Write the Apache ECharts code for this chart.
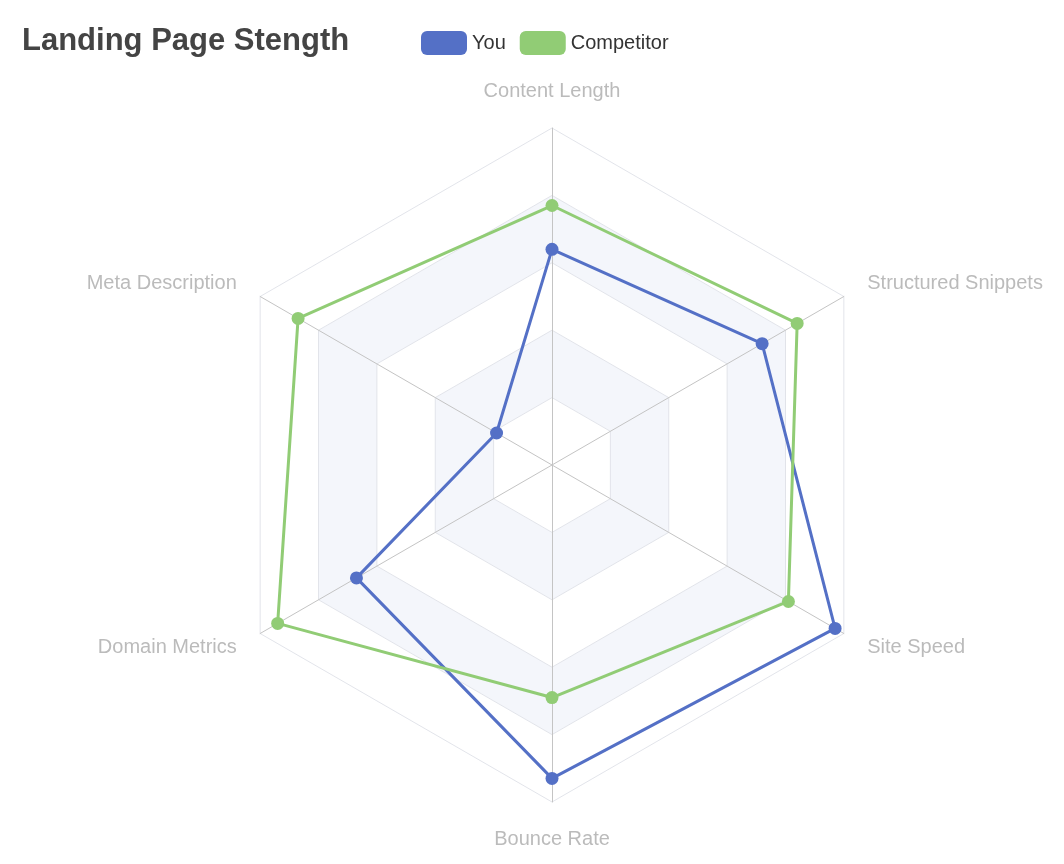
<!DOCTYPE html>
<html><head><meta charset="utf-8">
<script src="https://cdn.jsdelivr.net/npm/echarts@6/dist/echarts.min.js"></script>
<style>html,body{margin:0;padding:0;background:#fff}#c{width:1064px;height:864px}</style>
</head><body><div id="c"></div>
<script>
const indicators = ['Content Length','Meta Description','Domain Metrics','Bounce Rate','Site Speed','Structured Snippets'];
const youValues = [64, 19, 67, 93, 97, 72];
const competitorValues = [77, 87, 94, 69, 81, 84];
const seriesNames = ['You','Competitor'];
const chart = echarts.init(document.getElementById('c'));
chart.setOption({
  title:{text:'Landing Page Stength',left:17,top:21,textStyle:{fontSize:31,fontWeight:'bold',color:'#444',fontFamily:'Liberation Sans, Arial'}},
  legend:{data:seriesNames,left:416,top:26,itemWidth:46,itemHeight:24,itemGap:14,icon:'roundRect',textStyle:{fontSize:20,color:'#333',fontFamily:'Liberation Sans, Arial'}},
  radar:{
    center:[552,465],radius:337,splitNumber:5,
    indicator:indicators.map(n=>({name:n,max:100})),
    axisName:{color:'#bbb',fontSize:20,fontFamily:'Liberation Sans, Arial'},
    nameGap:27,
    splitArea:{areaStyle:{color:['#ffffff','#f4f6fb']}},
    splitLine:{lineStyle:{color:'#e2e4ea'}},
    axisLine:{lineStyle:{color:'#c4c4c4'}}
  },
  series:[{type:'radar',symbol:'circle',symbolSize:13,
    data:[
      {name:'You',value:youValues,itemStyle:{color:'#5470c6'},lineStyle:{width:3,color:'#5470c6'}},
      {name:'Competitor',value:competitorValues,itemStyle:{color:'#91cc75'},lineStyle:{width:3,color:'#91cc75'}}
    ]}]
});
</script></body></html>
